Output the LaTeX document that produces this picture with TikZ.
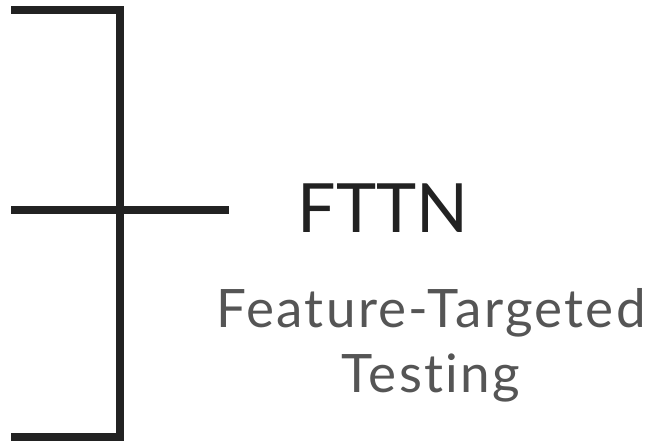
\documentclass[tikz,border=0pt]{standalone}
\usepackage{fontspec}
\setmainfont{Lato}[Ligatures={NoCommon}]
\newfontfamily\subfont{Lato}[Ligatures={NoCommon}, LetterSpace=4.4]
\usepackage{tikz}
\definecolor{ink}{HTML}{222222}
\definecolor{soft}{HTML}{555555}
\tikzset{bar/.style={draw=ink, line width=8pt, line join=miter}}

\begin{document}
\begin{tikzpicture}[x=1pt, y=-1pt]
	\useasboundingbox (0,0) rectangle (654,441);
	\coordinate (T0) at (11,10);
	\coordinate (T1) at (120,10);
	\coordinate (B1) at (120,437);
	\coordinate (B0) at (11,437);
	\coordinate (M0) at (11,210);
	\coordinate (M1) at (229,210);
	\draw[bar] (T0) -- (T1) -- (B1) -- (B0);
	\draw[bar] (M0) -- (M1);
	\node[anchor=base, inner sep=0pt, text=ink, font=\fontsize{68}{68}\selectfont] (fttn) at (383,233) {FTTN};
	\node[anchor=base, inner sep=0pt, text=soft, align=center, font=\subfont\fontsize{53}{65}\selectfont] (sub) at (431,392) {Feature-Targeted\\Testing};
\end{tikzpicture}
\end{document}
